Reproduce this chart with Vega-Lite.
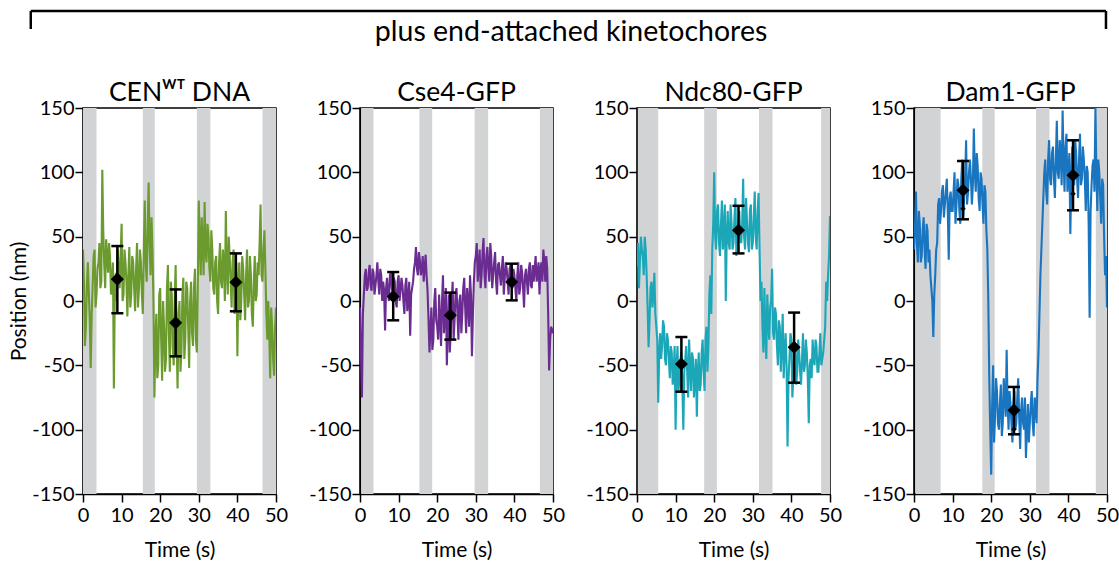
{
  "$schema": "https://vega.github.io/schema/vega-lite/v6.json",
  "padding": {"left": 8, "top": 9, "right": 5, "bottom": 5},
  "background": "white",
  "config": {
    "font": "Lato",
    "view": {"stroke": "black", "strokeWidth": 1.5},
    "title": {"fontSize": 26.5, "fontWeight": "normal", "color": "black", "offset": -8, "font": "Lato"},
    "axis": {"domainColor": "black", "domainWidth": 1.5, "tickColor": "black", "tickWidth": 1.5, "tickSize": 8, "labelFontSize": 20, "labelColor": "black", "titleFontSize": 21, "titleFontWeight": "normal", "titleColor": "black", "grid": false, "labelFont": "Lato", "titleFont": "Lato", "labelOverlap": false},
    "axisY": {"labelPadding": 1, "titlePadding": 2},
    "axisX": {"labelPadding": 3, "titlePadding": 14}
  },
  "datasets": {
    "cen": [
      {"t":0,"y":40},{"t":0.5,"y":-35},{"t":1,"y":12},{"t":1.5,"y":8},{"t":2,"y":-52},{"t":2.5,"y":12},{"t":3,"y":40},{"t":3.5,"y":5},{"t":4,"y":30},{"t":4.5,"y":10},
      {"t":5,"y":102},{"t":5.5,"y":28},{"t":6,"y":48},{"t":6.5,"y":22},{"t":7,"y":35},{"t":7.5,"y":15},{"t":8,"y":-68},{"t":8.5,"y":22},{"t":9,"y":40},{"t":9.5,"y":10},
      {"t":10,"y":60},{"t":10.5,"y":5},{"t":11,"y":30},{"t":11.5,"y":-12},{"t":12,"y":42},{"t":12.5,"y":5},{"t":13,"y":30},{"t":13.5,"y":-8},{"t":14,"y":45},{"t":14.5,"y":10},
      {"t":15,"y":30},{"t":15.5,"y":-10},{"t":16,"y":78},{"t":16.5,"y":15},{"t":17,"y":92},{"t":17.5,"y":20},{"t":18,"y":40},{"t":18.5,"y":-75},{"t":19,"y":-10},{"t":19.5,"y":-50},
      {"t":20,"y":10},{"t":20.5,"y":-62},{"t":21,"y":-20},{"t":21.5,"y":-45},{"t":22,"y":28},{"t":22.5,"y":-55},{"t":23,"y":5},{"t":23.5,"y":-50},{"t":24,"y":28},{"t":24.5,"y":-68},
      {"t":25,"y":0},{"t":25.5,"y":-40},{"t":26,"y":18},{"t":26.5,"y":-30},{"t":27,"y":10},{"t":27.5,"y":-52},{"t":28,"y":15},{"t":28.5,"y":-35},{"t":29,"y":25},{"t":29.5,"y":-40},
      {"t":30,"y":78},{"t":30.5,"y":20},{"t":31,"y":45},{"t":31.5,"y":77},{"t":32,"y":30},{"t":32.5,"y":50},{"t":33,"y":15},{"t":33.5,"y":40},{"t":34,"y":5},{"t":34.5,"y":35},
      {"t":35,"y":-10},{"t":35.5,"y":45},{"t":36,"y":10},{"t":36.5,"y":30},{"t":37,"y":70},{"t":37.5,"y":5},{"t":38,"y":35},{"t":38.5,"y":-5},{"t":39,"y":40},{"t":39.5,"y":10},
      {"t":40,"y":-43},{"t":40.5,"y":30},{"t":41,"y":0},{"t":41.5,"y":25},{"t":42,"y":-15},{"t":42.5,"y":40},{"t":43,"y":0},{"t":43.5,"y":20},{"t":44,"y":-20},{"t":44.5,"y":35},
      {"t":45,"y":5},{"t":45.5,"y":20},{"t":46,"y":75},{"t":46.5,"y":15},{"t":47,"y":55},{"t":47.5,"y":-10},{"t":48,"y":0},{"t":48.5,"y":-60},{"t":49,"y":-20},{"t":49.5,"y":-58},
      {"t":50,"y":-5},
      {"t":0.25,"y":15},{"t":0.75,"y":-20},{"t":1.25,"y":30},{"t":1.75,"y":-15},{"t":2.25,"y":-10},{"t":2.75,"y":35},{"t":3.25,"y":-5},{"t":3.75,"y":25},{"t":4.25,"y":45},{"t":4.75,"y":15},
      {"t":5.25,"y":55},{"t":5.75,"y":10},{"t":6.25,"y":35},{"t":6.75,"y":45},{"t":7.25,"y":5},{"t":7.75,"y":30},{"t":8.25,"y":10},{"t":8.75,"y":0},{"t":9.25,"y":25},{"t":9.75,"y":35},
      {"t":10.25,"y":0},{"t":10.75,"y":40},{"t":11.25,"y":15},{"t":11.75,"y":20},{"t":12.25,"y":-5},{"t":12.75,"y":35},{"t":13.25,"y":10},{"t":13.75,"y":25},{"t":14.25,"y":-5},{"t":14.75,"y":40},
      {"t":15.25,"y":5},{"t":15.75,"y":40},{"t":16.25,"y":30},{"t":16.75,"y":55},{"t":17.25,"y":45},{"t":17.75,"y":65},{"t":18.25,"y":0},{"t":18.75,"y":-30},{"t":19.25,"y":-60},{"t":19.75,"y":5},
      {"t":20.25,"y":-30},{"t":20.75,"y":0},{"t":21.25,"y":-55},{"t":21.75,"y":10},{"t":22.25,"y":-25},{"t":22.75,"y":15},{"t":23.25,"y":-35},{"t":23.75,"y":0},{"t":24.25,"y":-30},{"t":24.75,"y":-10},
      {"t":25.25,"y":-55},{"t":25.75,"y":5},{"t":26.25,"y":-45},{"t":26.75,"y":15},{"t":27.25,"y":-20},{"t":27.75,"y":0},{"t":28.25,"y":-25},{"t":28.75,"y":10},{"t":29.25,"y":-30},{"t":29.75,"y":15},
      {"t":30.25,"y":45},{"t":30.75,"y":65},{"t":31.25,"y":20},{"t":31.75,"y":40},{"t":32.25,"y":60},{"t":32.75,"y":25},{"t":33.25,"y":55},{"t":33.75,"y":10},{"t":34.25,"y":30},{"t":34.75,"y":0},
      {"t":35.25,"y":30},{"t":35.75,"y":15},{"t":36.25,"y":40},{"t":36.75,"y":0},{"t":37.25,"y":25},{"t":37.75,"y":50},{"t":38.25,"y":15},{"t":38.75,"y":30},{"t":39.25,"y":-10},{"t":39.75,"y":30},
      {"t":40.25,"y":15},{"t":40.75,"y":-15},{"t":41.25,"y":35},{"t":41.75,"y":5},{"t":42.25,"y":20},{"t":42.75,"y":-5},{"t":43.25,"y":35},{"t":43.75,"y":-10},{"t":44.25,"y":15},{"t":44.75,"y":0},
      {"t":45.25,"y":30},{"t":45.75,"y":45},{"t":46.25,"y":20},{"t":46.75,"y":40},{"t":47.25,"y":25},{"t":47.75,"y":-30},{"t":48.25,"y":-25},{"t":48.75,"y":-5},{"t":49.25,"y":-45},{"t":49.75,"y":-20}
    ],
    "cse4": [
      {"t":0,"y":-5},{"t":0.5,"y":-75},{"t":1,"y":5},{"t":1.5,"y":25},{"t":2,"y":10},{"t":2.5,"y":28},{"t":3,"y":8},{"t":3.5,"y":22},{"t":4,"y":12},{"t":4.5,"y":30},
      {"t":5,"y":5},{"t":5.5,"y":20},{"t":6,"y":15},{"t":6.5,"y":-23},{"t":7,"y":18},{"t":7.5,"y":0},{"t":8,"y":22},{"t":8.5,"y":5},{"t":9,"y":15},{"t":9.5,"y":-5},
      {"t":10,"y":20},{"t":10.5,"y":8},{"t":11,"y":12},{"t":11.5,"y":-10},{"t":12,"y":18},{"t":12.5,"y":2},{"t":13,"y":-27},{"t":13.5,"y":10},{"t":14,"y":25},{"t":14.5,"y":42},
      {"t":15,"y":20},{"t":15.5,"y":32},{"t":16,"y":25},{"t":16.5,"y":15},{"t":17,"y":36},{"t":17.5,"y":8},{"t":18,"y":-40},{"t":18.5,"y":-5},{"t":19,"y":-30},{"t":19.5,"y":10},
      {"t":20,"y":-20},{"t":20.5,"y":5},{"t":21,"y":-35},{"t":21.5,"y":20},{"t":22,"y":-10},{"t":22.5,"y":-50},{"t":23,"y":5},{"t":23.5,"y":-25},{"t":24,"y":15},{"t":24.5,"y":-15},
      {"t":25,"y":10},{"t":25.5,"y":-30},{"t":26,"y":5},{"t":26.5,"y":-10},{"t":27,"y":18},{"t":27.5,"y":-25},{"t":28,"y":0},{"t":28.5,"y":20},{"t":29,"y":-43},{"t":29.5,"y":15},
      {"t":30,"y":35},{"t":30.5,"y":15},{"t":31,"y":40},{"t":31.5,"y":20},{"t":32,"y":49},{"t":32.5,"y":10},{"t":33,"y":42},{"t":33.5,"y":15},{"t":34,"y":35},{"t":34.5,"y":20},
      {"t":35,"y":38},{"t":35.5,"y":5},{"t":36,"y":30},{"t":36.5,"y":12},{"t":37,"y":35},{"t":37.5,"y":18},{"t":38,"y":25},{"t":38.5,"y":5},{"t":39,"y":28},{"t":39.5,"y":10},
      {"t":40,"y":20},{"t":40.5,"y":0},{"t":41,"y":30},{"t":41.5,"y":10},{"t":42,"y":22},{"t":42.5,"y":-5},{"t":43,"y":25},{"t":43.5,"y":5},{"t":44,"y":30},{"t":44.5,"y":10},
      {"t":45,"y":15},{"t":45.5,"y":35},{"t":46,"y":20},{"t":46.5,"y":5},{"t":47,"y":30},{"t":47.5,"y":40},{"t":48,"y":15},{"t":48.5,"y":25},{"t":49,"y":-54},{"t":49.5,"y":-20},
      {"t":50,"y":-25},
      {"t":0.25,"y":-40},{"t":0.75,"y":-10},{"t":1.25,"y":20},{"t":1.75,"y":8},{"t":2.25,"y":22},{"t":2.75,"y":12},{"t":3.25,"y":25},{"t":3.75,"y":5},{"t":4.25,"y":20},{"t":4.75,"y":15},
      {"t":5.25,"y":25},{"t":5.75,"y":0},{"t":6.25,"y":8},{"t":6.75,"y":10},{"t":7.25,"y":5},{"t":7.75,"y":20},{"t":8.25,"y":10},{"t":8.75,"y":18},{"t":9.25,"y":0},{"t":9.75,"y":15},
      {"t":10.25,"y":0},{"t":10.75,"y":18},{"t":11.25,"y":0},{"t":11.75,"y":12},{"t":12.25,"y":-8},{"t":12.75,"y":15},{"t":13.25,"y":5},{"t":13.75,"y":15},{"t":14.25,"y":30},{"t":14.75,"y":25},
      {"t":15.25,"y":38},{"t":15.75,"y":20},{"t":16.25,"y":35},{"t":16.75,"y":25},{"t":17.25,"y":20},{"t":17.75,"y":-15},{"t":18.25,"y":-20},{"t":18.75,"y":-38},{"t":19.25,"y":0},{"t":19.75,"y":-15},
      {"t":20.25,"y":-30},{"t":20.75,"y":-15},{"t":21.25,"y":0},{"t":21.75,"y":-25},{"t":22.25,"y":10},{"t":22.75,"y":-20},{"t":23.25,"y":-40},{"t":23.75,"y":0},{"t":24.25,"y":-30},{"t":24.75,"y":5},
      {"t":25.25,"y":-10},{"t":25.75,"y":0},{"t":26.25,"y":-25},{"t":26.75,"y":10},{"t":27.25,"y":-5},{"t":27.75,"y":10},{"t":28.25,"y":-20},{"t":28.75,"y":5},{"t":29.25,"y":-10},{"t":29.75,"y":30},
      {"t":30.25,"y":45},{"t":30.75,"y":28},{"t":31.25,"y":10},{"t":31.75,"y":38},{"t":32.25,"y":20},{"t":32.75,"y":35},{"t":33.25,"y":25},{"t":33.75,"y":45},{"t":34.25,"y":10},{"t":34.75,"y":30},
      {"t":35.25,"y":15},{"t":35.75,"y":28},{"t":36.25,"y":20},{"t":36.75,"y":25},{"t":37.25,"y":5},{"t":37.75,"y":30},{"t":38.25,"y":15},{"t":38.75,"y":25},{"t":39.25,"y":15},{"t":39.75,"y":25},
      {"t":40.25,"y":10},{"t":40.75,"y":20},{"t":41.25,"y":5},{"t":41.75,"y":28},{"t":42.25,"y":10},{"t":42.75,"y":20},{"t":43.25,"y":15},{"t":43.75,"y":25},{"t":44.25,"y":12},{"t":44.75,"y":28},
      {"t":45.25,"y":25},{"t":45.75,"y":15},{"t":46.25,"y":30},{"t":46.75,"y":25},{"t":47.25,"y":15},{"t":47.75,"y":30},{"t":48.25,"y":35},{"t":48.75,"y":-10},{"t":49.25,"y":-30},{"t":49.75,"y":-22}
    ],
    "ndc80": [
      {"t":0,"y":27},{"t":0.5,"y":10},{"t":1,"y":50},{"t":1.5,"y":35},{"t":2,"y":50},{"t":2.5,"y":20},{"t":3,"y":-36},{"t":3.5,"y":10},{"t":4,"y":-5},{"t":4.5,"y":22},
      {"t":5,"y":-20},{"t":5.5,"y":-79},{"t":6,"y":-25},{"t":6.5,"y":-35},{"t":7,"y":-20},{"t":7.5,"y":-50},{"t":8,"y":-30},{"t":8.5,"y":-60},{"t":9,"y":-40},{"t":9.5,"y":-55},
      {"t":10,"y":-100},{"t":10.5,"y":-35},{"t":11,"y":-60},{"t":11.5,"y":-40},{"t":12,"y":-100},{"t":12.5,"y":-45},{"t":13,"y":-55},{"t":13.5,"y":-30},{"t":14,"y":-70},{"t":14.5,"y":-45},
      {"t":15,"y":-60},{"t":15.5,"y":-90},{"t":16,"y":-40},{"t":16.5,"y":-65},{"t":17,"y":-30},{"t":17.5,"y":-70},{"t":18,"y":-20},{"t":18.5,"y":-35},{"t":19,"y":20},{"t":19.5,"y":40},
      {"t":20,"y":100},{"t":20.5,"y":40},{"t":21,"y":75},{"t":21.5,"y":35},{"t":22,"y":78},{"t":22.5,"y":55},{"t":23,"y":0},{"t":23.5,"y":70},{"t":24,"y":40},{"t":24.5,"y":60},
      {"t":25,"y":45},{"t":25.5,"y":80},{"t":26,"y":50},{"t":26.5,"y":70},{"t":27,"y":45},{"t":27.5,"y":95},{"t":28,"y":40},{"t":28.5,"y":62},{"t":29,"y":38},{"t":29.5,"y":75},
      {"t":30,"y":45},{"t":30.5,"y":85},{"t":31,"y":40},{"t":31.5,"y":84},{"t":32,"y":0},{"t":32.5,"y":-20},{"t":33,"y":10},{"t":33.5,"y":-45},{"t":34,"y":-15},{"t":34.5,"y":-5},
      {"t":35,"y":25},{"t":35.5,"y":-30},{"t":36,"y":-10},{"t":36.5,"y":-50},{"t":37,"y":-20},{"t":37.5,"y":-35},{"t":38,"y":-60},{"t":38.5,"y":-25},{"t":39,"y":-113},{"t":39.5,"y":-45},
      {"t":40,"y":-30},{"t":40.5,"y":-60},{"t":41,"y":-35},{"t":41.5,"y":-55},{"t":42,"y":-40},{"t":42.5,"y":-65},{"t":43,"y":-25},{"t":43.5,"y":-50},{"t":44,"y":-40},{"t":44.5,"y":-95},
      {"t":45,"y":-45},{"t":45.5,"y":-30},{"t":46,"y":-50},{"t":46.5,"y":-35},{"t":47,"y":-55},{"t":47.5,"y":-25},{"t":48,"y":-45},{"t":48.5,"y":-30},{"t":49,"y":15},{"t":49.5,"y":20},
      {"t":50,"y":66},
      {"t":0.25,"y":45},{"t":0.75,"y":30},{"t":1.25,"y":40},{"t":1.75,"y":20},{"t":2.25,"y":40},{"t":2.75,"y":-5},{"t":3.25,"y":-15},{"t":3.75,"y":15},{"t":4.25,"y":5},{"t":4.75,"y":-10},
      {"t":5.25,"y":-30},{"t":5.75,"y":-40},{"t":6.25,"y":-45},{"t":6.75,"y":-15},{"t":7.25,"y":-45},{"t":7.75,"y":-25},{"t":8.25,"y":-45},{"t":8.75,"y":-35},{"t":9.25,"y":-65},{"t":9.75,"y":-35},
      {"t":10.25,"y":-50},{"t":10.75,"y":-70},{"t":11.25,"y":-45},{"t":11.75,"y":-65},{"t":12.25,"y":-55},{"t":12.75,"y":-35},{"t":13.25,"y":-75},{"t":13.75,"y":-50},{"t":14.25,"y":-40},{"t":14.75,"y":-75},
      {"t":15.25,"y":-45},{"t":15.75,"y":-55},{"t":16.25,"y":-70},{"t":16.75,"y":-40},{"t":17.25,"y":-55},{"t":17.75,"y":-30},{"t":18.25,"y":-55},{"t":18.75,"y":5},{"t":19.25,"y":-10},{"t":19.75,"y":60},
      {"t":20.25,"y":50},{"t":20.75,"y":70},{"t":21.25,"y":45},{"t":21.75,"y":60},{"t":22.25,"y":40},{"t":22.75,"y":75},{"t":23.25,"y":50},{"t":23.75,"y":45},{"t":24.25,"y":75},{"t":24.75,"y":40},
      {"t":25.25,"y":65},{"t":25.75,"y":35},{"t":26.25,"y":60},{"t":26.75,"y":50},{"t":27.25,"y":60},{"t":27.75,"y":50},{"t":28.25,"y":80},{"t":28.75,"y":45},{"t":29.25,"y":70},{"t":29.75,"y":40},
      {"t":30.25,"y":65},{"t":30.75,"y":50},{"t":31.25,"y":70},{"t":31.75,"y":40},{"t":32.25,"y":15},{"t":32.75,"y":-40},{"t":33.25,"y":-25},{"t":33.75,"y":5},{"t":34.25,"y":-30},{"t":34.75,"y":0},
      {"t":35.25,"y":-25},{"t":35.75,"y":-5},{"t":36.25,"y":-35},{"t":36.75,"y":-15},{"t":37.25,"y":-55},{"t":37.75,"y":-10},{"t":38.25,"y":-40},{"t":38.75,"y":-50},{"t":39.25,"y":-60},{"t":39.75,"y":-25},
      {"t":40.25,"y":-75},{"t":40.75,"y":-40},{"t":41.25,"y":-65},{"t":41.75,"y":-30},{"t":42.25,"y":-55},{"t":42.75,"y":-45},{"t":43.25,"y":-55},{"t":43.75,"y":-30},{"t":44.25,"y":-60},{"t":44.75,"y":-50},
      {"t":45.25,"y":-60},{"t":45.75,"y":-45},{"t":46.25,"y":-30},{"t":46.75,"y":-55},{"t":47.25,"y":-40},{"t":47.75,"y":-50},{"t":48.25,"y":-40},{"t":48.75,"y":-20},{"t":49.25,"y":0},{"t":49.75,"y":35}
    ],
    "dam1": [
      {"t":0,"y":40},{"t":0.5,"y":85},{"t":1,"y":30},{"t":1.5,"y":60},{"t":2,"y":35},{"t":2.5,"y":65},{"t":3,"y":25},{"t":3.5,"y":55},{"t":4,"y":40},{"t":4.5,"y":10},
      {"t":5,"y":-28},{"t":5.5,"y":20},{"t":6,"y":45},{"t":6.5,"y":80},{"t":7,"y":70},{"t":7.5,"y":90},{"t":8,"y":75},{"t":8.5,"y":95},{"t":9,"y":32},{"t":9.5,"y":85},
      {"t":10,"y":70},{"t":10.5,"y":100},{"t":11,"y":75},{"t":11.5,"y":90},{"t":12,"y":60},{"t":12.5,"y":110},{"t":13,"y":80},{"t":13.5,"y":125},{"t":14,"y":85},{"t":14.5,"y":110},
      {"t":15,"y":75},{"t":15.5,"y":134},{"t":16,"y":85},{"t":16.5,"y":105},{"t":17,"y":70},{"t":17.5,"y":95},{"t":18,"y":60},{"t":18.5,"y":85},{"t":19,"y":40},{"t":19.5,"y":-60},
      {"t":20,"y":-135},{"t":20.5,"y":-50},{"t":21,"y":-90},{"t":21.5,"y":-70},{"t":22,"y":-100},{"t":22.5,"y":-65},{"t":23,"y":-95},{"t":23.5,"y":-75},{"t":24,"y":-38},{"t":24.5,"y":-100},
      {"t":25,"y":-80},{"t":25.5,"y":-110},{"t":26,"y":-70},{"t":26.5,"y":-95},{"t":27,"y":-60},{"t":27.5,"y":-115},{"t":28,"y":-75},{"t":28.5,"y":-100},{"t":29,"y":-122},{"t":29.5,"y":-80},
      {"t":30,"y":-95},{"t":30.5,"y":-70},{"t":31,"y":-105},{"t":31.5,"y":-80},{"t":32,"y":-60},{"t":32.5,"y":-10},{"t":33,"y":40},{"t":33.5,"y":80},{"t":34,"y":110},{"t":34.5,"y":75},
      {"t":35,"y":125},{"t":35.5,"y":90},{"t":36,"y":120},{"t":36.5,"y":80},{"t":37,"y":140},{"t":37.5,"y":95},{"t":38,"y":115},{"t":38.5,"y":148},{"t":39,"y":85},{"t":39.5,"y":130},
      {"t":40,"y":100},{"t":40.5,"y":52},{"t":41,"y":120},{"t":41.5,"y":90},{"t":42,"y":115},{"t":42.5,"y":80},{"t":43,"y":130},{"t":43.5,"y":95},{"t":44,"y":110},{"t":44.5,"y":70},
      {"t":45,"y":100},{"t":45.5,"y":-13},{"t":46,"y":90},{"t":46.5,"y":110},{"t":47,"y":150},{"t":47.5,"y":70},{"t":48,"y":100},{"t":48.5,"y":60},{"t":49,"y":90},{"t":49.5,"y":20},
      {"t":50,"y":-5},
      {"t":0.25,"y":55},{"t":0.75,"y":45},{"t":1.25,"y":70},{"t":1.75,"y":30},{"t":2.25,"y":55},{"t":2.75,"y":40},{"t":3.25,"y":60},{"t":3.75,"y":30},{"t":4.25,"y":20},{"t":4.75,"y":0},
      {"t":5.25,"y":5},{"t":5.75,"y":40},{"t":6.25,"y":75},{"t":6.75,"y":60},{"t":7.25,"y":85},{"t":7.75,"y":65},{"t":8.25,"y":85},{"t":8.75,"y":70},{"t":9.25,"y":80},{"t":9.75,"y":70},
      {"t":10.25,"y":85},{"t":10.75,"y":60},{"t":11.25,"y":95},{"t":11.75,"y":70},{"t":12.25,"y":95},{"t":12.75,"y":65},{"t":13.25,"y":95},{"t":13.75,"y":75},{"t":14.25,"y":100},{"t":14.75,"y":95},
      {"t":15.25,"y":90},{"t":15.75,"y":100},{"t":16.25,"y":115},{"t":16.75,"y":80},{"t":17.25,"y":100},{"t":17.75,"y":75},{"t":18.25,"y":90},{"t":18.75,"y":55},{"t":19.25,"y":0},{"t":19.75,"y":-100},
      {"t":20.25,"y":-80},{"t":20.75,"y":-110},{"t":21.25,"y":-60},{"t":21.75,"y":-95},{"t":22.25,"y":-80},{"t":22.75,"y":-105},{"t":23.25,"y":-60},{"t":23.75,"y":-90},{"t":24.25,"y":-80},{"t":24.75,"y":-70},
      {"t":25.25,"y":-95},{"t":25.75,"y":-80},{"t":26.25,"y":-100},{"t":26.75,"y":-75},{"t":27.25,"y":-90},{"t":27.75,"y":-85},{"t":28.25,"y":-95},{"t":28.75,"y":-75},{"t":29.25,"y":-100},{"t":29.75,"y":-110},
      {"t":30.25,"y":-80},{"t":30.75,"y":-95},{"t":31.25,"y":-75},{"t":31.75,"y":-95},{"t":32.25,"y":-40},{"t":32.75,"y":20},{"t":33.25,"y":60},{"t":33.75,"y":100},{"t":34.25,"y":85},{"t":34.75,"y":110},
      {"t":35.25,"y":95},{"t":35.75,"y":115},{"t":36.25,"y":95},{"t":36.75,"y":110},{"t":37.25,"y":100},{"t":37.75,"y":125},{"t":38.25,"y":90},{"t":38.75,"y":110},{"t":39.25,"y":120},{"t":39.75,"y":85},
      {"t":40.25,"y":115},{"t":40.75,"y":95},{"t":41.25,"y":105},{"t":41.75,"y":125},{"t":42.25,"y":95},{"t":42.75,"y":110},{"t":43.25,"y":90},{"t":43.75,"y":120},{"t":44.25,"y":95},{"t":44.75,"y":105},
      {"t":45.25,"y":60},{"t":45.75,"y":70},{"t":46.25,"y":105},{"t":46.75,"y":85},{"t":47.25,"y":100},{"t":47.75,"y":110},{"t":48.25,"y":80},{"t":48.75,"y":95},{"t":49.25,"y":50},{"t":49.75,"y":35}
    ]
  },
  "bounds": "flush",
  "spacing": 79,
  "vconcat": [
    {
      "width": 1024,
      "height": 18,
      "view": {"stroke": null},
      "data": {"values": [{"label": "plus end-attached kinetochores"}]},
      "layer": [
        {
          "mark": {"type": "rule", "strokeWidth": 2.5, "color": "black"},
          "encoding": {
            "x": {"datum": -0.051, "type": "quantitative", "scale": {"domain": [0, 1], "nice": false, "zero": false}, "axis": null},
            "x2": {"datum": 0.999},
            "y": {"datum": 1, "type": "quantitative", "scale": {"domain": [0, 1], "nice": false}, "axis": null}
          }
        },
        {
          "mark": {"type": "rule", "strokeWidth": 2.5, "color": "black"},
          "encoding": {
            "x": {"datum": -0.051, "type": "quantitative"},
            "y": {"datum": 1, "type": "quantitative"},
            "y2": {"datum": 0}
          }
        },
        {
          "mark": {"type": "rule", "strokeWidth": 2.5, "color": "black"},
          "encoding": {
            "x": {"datum": 0.999, "type": "quantitative"},
            "y": {"datum": 1, "type": "quantitative"},
            "y2": {"datum": 0}
          }
        },
        {
          "mark": {"type": "text", "fontSize": 28.5, "baseline": "alphabetic", "align": "center", "dy": 12, "color": "black", "font": "Lato"},
          "encoding": {
            "x": {"datum": 0.4766, "type": "quantitative"},
            "y": {"datum": 0, "type": "quantitative"},
            "text": {"field": "label"}
          }
        }
      ]
    },
    {
      "bounds": "flush",
      "spacing": 84,
      "hconcat": [
        {
          "width": 193, "height": 386,
          "title": "CENᵂᵀ DNA",
          "layer": [
            {
              "data": {"values": [{"s":0,"e":3.5},{"s":15.5,"e":18.6},{"s":29.5,"e":33},{"s":46.5,"e":50}]},
              "mark": {"type": "rect", "color": "#d1d3d4"},
              "encoding": {
                "x": {"field": "s", "type": "quantitative", "scale": {"domain": [0, 50], "nice": false}, "title": "Time (s)", "axis": {"tickCount": 5, "labelOverlap": false, "labelFlush": false}},
                "x2": {"field": "e"},
                "y": {"datum": -150, "type": "quantitative", "scale": {"domain": [-150, 150], "nice": false}, "title": "Position (nm)", "axis": {"values": [-150, -100, -50, 0, 50, 100, 150], "labelExpr": "'' + datum.value"}},
                "y2": {"datum": 150}
              }
            },
            {
              "data": {"name": "cen"},
              "mark": {"type": "line", "color": "#6b9b2e", "strokeWidth": 2.1, "clip": true},
              "encoding": {
                "x": {"field": "t", "type": "quantitative", "title": "Time (s)"},
                "y": {"field": "y", "type": "quantitative", "title": "Position (nm)"}
              }
            },
            {
              "data": {"values": [{"t":8.9,"m":17,"lo":-9.5,"hi":42.7},{"t":24,"m":-17,"lo":-43,"hi":9},{"t":39.6,"m":14.5,"lo":-8,"hi":37}]},
              "layer": [
                {"mark": {"type": "rule", "strokeWidth": 2.5, "color": "black"},
                 "encoding": {"x": {"field": "t", "type": "quantitative", "title": "Time (s)"}, "y": {"field": "lo", "type": "quantitative", "title": "Position (nm)"}, "y2": {"field": "hi"}}},
                {"mark": {"type": "tick", "orient": "horizontal", "size": 12, "thickness": 2.5, "color": "black", "opacity": 1},
                 "encoding": {"x": {"field": "t", "type": "quantitative", "title": "Time (s)"}, "y": {"field": "lo", "type": "quantitative", "title": "Position (nm)"}}},
                {"mark": {"type": "tick", "orient": "horizontal", "size": 12, "thickness": 2.5, "color": "black", "opacity": 1},
                 "encoding": {"x": {"field": "t", "type": "quantitative", "title": "Time (s)"}, "y": {"field": "hi", "type": "quantitative", "title": "Position (nm)"}}},
                {"mark": {"type": "point", "shape": "diamond", "filled": true, "size": 170, "color": "black", "opacity": 1},
                 "encoding": {"x": {"field": "t", "type": "quantitative", "title": "Time (s)"}, "y": {"field": "m", "type": "quantitative", "title": "Position (nm)"}}}
              ]
            }
          ]
        },
        {
          "width": 193, "height": 386,
          "title": "Cse4-GFP",
          "layer": [
            {
              "data": {"values": [{"s":0.3,"e":3.5},{"s":15.4,"e":18.7},{"s":29.7,"e":33.2},{"s":46.6,"e":50}]},
              "mark": {"type": "rect", "color": "#d1d3d4"},
              "encoding": {
                "x": {"field": "s", "type": "quantitative", "scale": {"domain": [0, 50], "nice": false}, "title": "Time (s)", "axis": {"tickCount": 5, "labelOverlap": false, "labelFlush": false}},
                "x2": {"field": "e"},
                "y": {"datum": -150, "type": "quantitative", "scale": {"domain": [-150, 150], "nice": false}, "title": null, "axis": {"values": [-150, -100, -50, 0, 50, 100, 150], "labelExpr": "'' + datum.value"}},
                "y2": {"datum": 150}
              }
            },
            {
              "data": {"name": "cse4"},
              "mark": {"type": "line", "color": "#6a2c90", "strokeWidth": 2.1, "clip": true},
              "encoding": {
                "x": {"field": "t", "type": "quantitative", "title": "Time (s)"},
                "y": {"field": "y", "type": "quantitative", "title": null}
              }
            },
            {
              "data": {"values": [{"t":8.6,"m":3.5,"lo":-15,"hi":22.5},{"t":23.4,"m":-11,"lo":-30,"hi":6.5},{"t":39.3,"m":14.8,"lo":0.5,"hi":29}]},
              "layer": [
                {"mark": {"type": "rule", "strokeWidth": 2.5, "color": "black"},
                 "encoding": {"x": {"field": "t", "type": "quantitative", "title": "Time (s)"}, "y": {"field": "lo", "type": "quantitative", "title": null}, "y2": {"field": "hi"}}},
                {"mark": {"type": "tick", "orient": "horizontal", "size": 12, "thickness": 2.5, "color": "black", "opacity": 1},
                 "encoding": {"x": {"field": "t", "type": "quantitative", "title": "Time (s)"}, "y": {"field": "lo", "type": "quantitative", "title": null}}},
                {"mark": {"type": "tick", "orient": "horizontal", "size": 12, "thickness": 2.5, "color": "black", "opacity": 1},
                 "encoding": {"x": {"field": "t", "type": "quantitative", "title": "Time (s)"}, "y": {"field": "hi", "type": "quantitative", "title": null}}},
                {"mark": {"type": "point", "shape": "diamond", "filled": true, "size": 170, "color": "black", "opacity": 1},
                 "encoding": {"x": {"field": "t", "type": "quantitative", "title": "Time (s)"}, "y": {"field": "m", "type": "quantitative", "title": null}}}
              ]
            }
          ]
        },
        {
          "width": 193, "height": 386,
          "title": "Ndc80-GFP",
          "layer": [
            {
              "data": {"values": [{"s":0.2,"e":5.5},{"s":17.4,"e":20.7},{"s":31.6,"e":35.1},{"s":47.7,"e":50}]},
              "mark": {"type": "rect", "color": "#d1d3d4"},
              "encoding": {
                "x": {"field": "s", "type": "quantitative", "scale": {"domain": [0, 50], "nice": false}, "title": "Time (s)", "axis": {"tickCount": 5, "labelOverlap": false, "labelFlush": false}},
                "x2": {"field": "e"},
                "y": {"datum": -150, "type": "quantitative", "scale": {"domain": [-150, 150], "nice": false}, "title": null, "axis": {"values": [-150, -100, -50, 0, 50, 100, 150], "labelExpr": "'' + datum.value"}},
                "y2": {"datum": 150}
              }
            },
            {
              "data": {"name": "ndc80"},
              "mark": {"type": "line", "color": "#1ba7b8", "strokeWidth": 2.1, "clip": true},
              "encoding": {
                "x": {"field": "t", "type": "quantitative", "title": "Time (s)"},
                "y": {"field": "y", "type": "quantitative", "title": null}
              }
            },
            {
              "data": {"values": [{"t":11.5,"m":-49,"lo":-70.5,"hi":-28},{"t":26.3,"m":55,"lo":37,"hi":74},{"t":40.7,"m":-36,"lo":-63.5,"hi":-9}]},
              "layer": [
                {"mark": {"type": "rule", "strokeWidth": 2.5, "color": "black"},
                 "encoding": {"x": {"field": "t", "type": "quantitative", "title": "Time (s)"}, "y": {"field": "lo", "type": "quantitative", "title": null}, "y2": {"field": "hi"}}},
                {"mark": {"type": "tick", "orient": "horizontal", "size": 12, "thickness": 2.5, "color": "black", "opacity": 1},
                 "encoding": {"x": {"field": "t", "type": "quantitative", "title": "Time (s)"}, "y": {"field": "lo", "type": "quantitative", "title": null}}},
                {"mark": {"type": "tick", "orient": "horizontal", "size": 12, "thickness": 2.5, "color": "black", "opacity": 1},
                 "encoding": {"x": {"field": "t", "type": "quantitative", "title": "Time (s)"}, "y": {"field": "hi", "type": "quantitative", "title": null}}},
                {"mark": {"type": "point", "shape": "diamond", "filled": true, "size": 170, "color": "black", "opacity": 1},
                 "encoding": {"x": {"field": "t", "type": "quantitative", "title": "Time (s)"}, "y": {"field": "m", "type": "quantitative", "title": null}}}
              ]
            }
          ]
        },
        {
          "width": 193, "height": 386,
          "title": "Dam1-GFP",
          "layer": [
            {
              "data": {"values": [{"s":0.4,"e":6.9},{"s":17.7,"e":20.9},{"s":31.6,"e":35.1},{"s":47.1,"e":50}]},
              "mark": {"type": "rect", "color": "#d1d3d4"},
              "encoding": {
                "x": {"field": "s", "type": "quantitative", "scale": {"domain": [0, 50], "nice": false}, "title": "Time (s)", "axis": {"tickCount": 5, "labelOverlap": false, "labelFlush": false}},
                "x2": {"field": "e"},
                "y": {"datum": -150, "type": "quantitative", "scale": {"domain": [-150, 150], "nice": false}, "title": null, "axis": {"values": [-150, -100, -50, 0, 50, 100, 150], "labelExpr": "'' + datum.value"}},
                "y2": {"datum": 150}
              }
            },
            {
              "data": {"name": "dam1"},
              "mark": {"type": "line", "color": "#1a75c0", "strokeWidth": 2.1, "clip": true},
              "encoding": {
                "x": {"field": "t", "type": "quantitative", "title": "Time (s)"},
                "y": {"field": "y", "type": "quantitative", "title": null}
              }
            },
            {
              "data": {"values": [{"t":12.7,"m":86,"lo":63.5,"hi":108.8,"d":71.7},{"t":25.9,"m":-85,"lo":-103.6,"hi":-66.8,"d":-99.7},{"t":41.2,"m":97.7,"lo":70.5,"hi":124.9,"d":83.4}]},
              "layer": [
                {"mark": {"type": "rule", "strokeWidth": 2.5, "color": "black"},
                 "encoding": {"x": {"field": "t", "type": "quantitative", "title": "Time (s)"}, "y": {"field": "lo", "type": "quantitative", "title": null}, "y2": {"field": "hi"}}},
                {"mark": {"type": "tick", "orient": "horizontal", "size": 12, "thickness": 2.5, "color": "black", "opacity": 1},
                 "encoding": {"x": {"field": "t", "type": "quantitative", "title": "Time (s)"}, "y": {"field": "lo", "type": "quantitative", "title": null}}},
                {"mark": {"type": "tick", "orient": "horizontal", "size": 12, "thickness": 2.5, "color": "black", "opacity": 1},
                 "encoding": {"x": {"field": "t", "type": "quantitative", "title": "Time (s)"}, "y": {"field": "hi", "type": "quantitative", "title": null}}},
                {"mark": {"type": "point", "shape": "diamond", "filled": true, "size": 30, "color": "black", "opacity": 1},
                 "encoding": {"x": {"field": "t", "type": "quantitative", "title": "Time (s)"}, "y": {"field": "d", "type": "quantitative", "title": null}}},
                {"mark": {"type": "point", "shape": "diamond", "filled": true, "size": 170, "color": "black", "opacity": 1},
                 "encoding": {"x": {"field": "t", "type": "quantitative", "title": "Time (s)"}, "y": {"field": "m", "type": "quantitative", "title": null}}}
              ]
            }
          ]
        }
      ]
    }
  ]
}
